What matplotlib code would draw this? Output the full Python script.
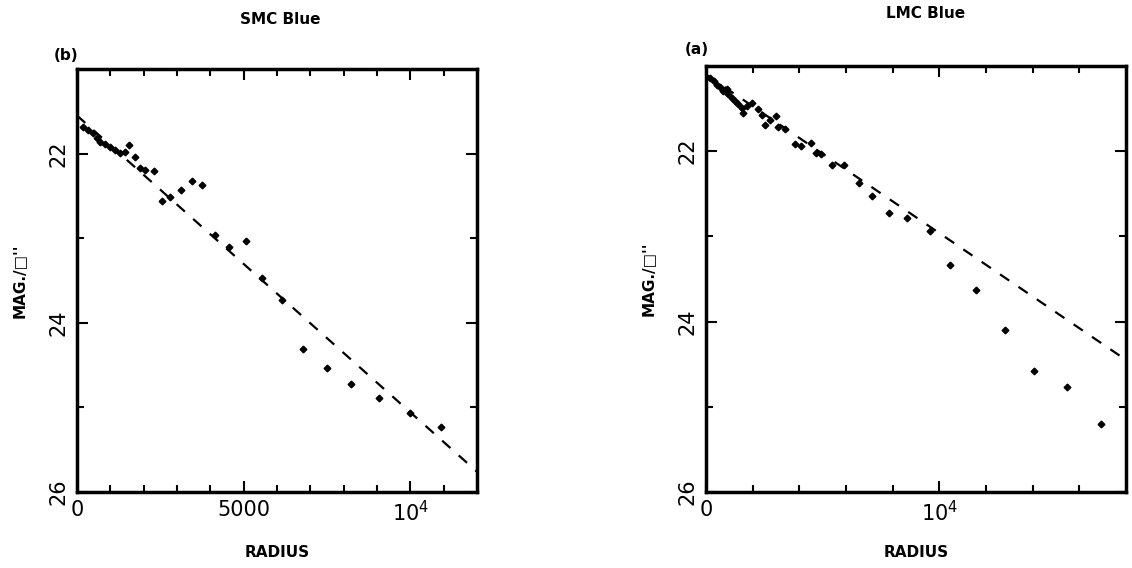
import matplotlib
matplotlib.use("Agg")
import matplotlib.pyplot as plt
import numpy as np

plt.rcParams['font.family'] = ['DejaVu Sans']
plt.rcParams['mathtext.default'] = 'regular'

# ---- SMC Blue (b) ----
smc_r = [190, 340, 490, 590, 690, 840, 990, 1140, 1290, 1440, 1570, 1740, 1890,
         2040, 2310, 2560, 2790, 3120, 3440, 3760, 4140, 4570, 5060, 5540, 6160,
         6790, 7490, 8230, 9060, 9990, 10910]
smc_mag = [21.68, 21.72, 21.76, 21.82, 21.86, 21.89, 21.92, 21.96, 21.99, 21.98,
           21.90, 22.04, 22.17, 22.19, 22.20, 22.56, 22.51, 22.43, 22.32, 22.37,
           22.96, 23.10, 23.03, 23.47, 23.73, 24.31, 24.54, 24.72, 24.89, 25.07,
           25.23]
smc_fit_r = [0, 12000]
smc_fit_mag = [21.55, 25.76]

# ---- LMC Blue (a) ----
lmc_r = [183, 325, 468, 608, 749, 894, 962, 1107, 1247, 1387, 1532, 1600, 1745,
         1957, 2238, 2383, 2523, 2736, 3021, 3089, 3374, 3800, 4085, 4510, 4723,
         4936, 5387, 5927, 6565, 7106, 7842, 8622, 9616, 10437, 11550, 12808,
         14067, 15454, 16918]
lmc_mag = [21.14, 21.18, 21.22, 21.25, 21.29, 21.27, 21.33, 21.37, 21.41, 21.45,
           21.49, 21.55, 21.47, 21.43, 21.51, 21.57, 21.69, 21.63, 21.59, 21.72,
           21.74, 21.92, 21.94, 21.90, 22.02, 22.03, 22.16, 22.16, 22.37, 22.53,
           22.72, 22.78, 22.94, 23.33, 23.63, 24.10, 24.58, 24.77, 25.20]
lmc_fit_r = [0, 18000]
lmc_fit_mag = [21.10, 24.45]

W, H = 1132, 568
fig = plt.figure(figsize=(W / 100, H / 100), dpi=100)

ax1 = fig.add_axes([77 / W, 1 - 492 / H, 400 / W, (492 - 69) / H])
ax2 = fig.add_axes([706 / W, 1 - 492 / H, 420 / W, (492 - 66) / H])


def style(ax, xmax, xmajor, xlabels, xminor):
    ax.set_xlim(0, xmax)
    ax.set_ylim(26, 21)
    for s in ax.spines.values():
        s.set_linewidth(2.5)
    ax.set_xticks(xmajor)
    ax.set_xticklabels(xlabels, fontsize=15)
    ax.set_xticks(xminor, minor=True)
    ax.set_yticks([22, 24, 26])
    ax.set_yticklabels(['22', '24', '26'], rotation=90, va='center', fontsize=15)
    ax.set_yticks([23, 25], minor=True)
    ax.tick_params(which='both', direction='in', top=True, right=True, width=1.5)
    ax.tick_params(which='major', length=8, pad=6)
    ax.tick_params(which='minor', length=5)
    ax.set_xlabel('RADIUS', fontsize=11, fontweight='bold', labelpad=14)
    ax.set_ylabel("MAG./\u25a1''", fontsize=11, fontweight='bold', labelpad=16)


ax1.plot(smc_fit_r, smc_fit_mag, color='black', lw=1.6, ls=(0, (5, 5)))
ax1.plot(smc_r, smc_mag, 'D', color='black', ms=3.4, ls='none')
style(ax1, 12000, [0, 5000, 10000], ['0', '5000', r'$10^4$'],
      [1000, 2000, 3000, 4000, 6000, 7000, 8000, 9000, 11000])

ax2.plot(lmc_fit_r, lmc_fit_mag, color='black', lw=1.6, ls=(0, (5, 5)))
ax2.plot(lmc_r, lmc_mag, 'D', color='black', ms=3.4, ls='none')
style(ax2, 18000, [0, 10000], ['0', r'$10^4$'],
      [2000, 4000, 6000, 8000, 12000, 14000, 16000])

fig.text(280 / W, 1 - 20 / H, 'SMC Blue', fontsize=11, fontweight='bold',
         ha='center', va='center')
fig.text(66 / W, 1 - 55 / H, '(b)', fontsize=11, fontweight='bold',
         ha='center', va='center')
fig.text(926 / W, 1 - 14 / H, 'LMC Blue', fontsize=11, fontweight='bold',
         ha='center', va='center')
fig.text(697 / W, 1 - 50 / H, '(a)', fontsize=11, fontweight='bold',
         ha='center', va='center')

fig.savefig('out.png', dpi=100)
